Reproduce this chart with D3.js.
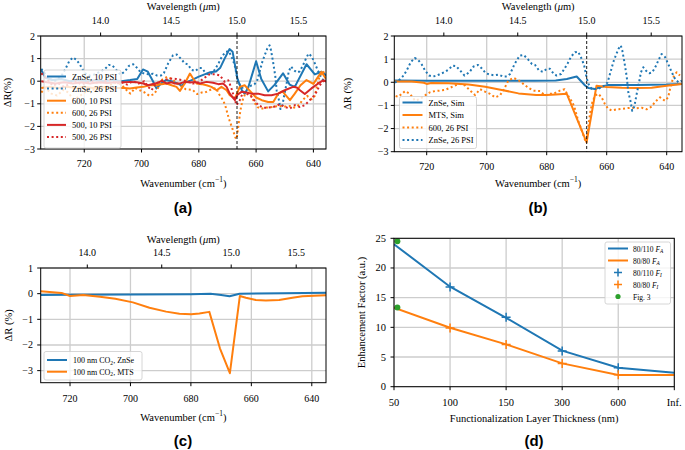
<!DOCTYPE html>
<html><head><meta charset="utf-8">
<script src="https://cdn.jsdelivr.net/npm/d3@7"></script>
<style>
body{margin:0;background:#fff}
svg{display:block}
text{font-family:"Liberation Serif","Times New Roman",serif;fill:#000}
</style>
</head><body><svg id="c" width="685" height="450"></svg>
<script>
// ---------------- DATA ----------------
const wnTicks = [720, 700, 680, 660, 640];
const wlTicks = [14.0, 14.5, 15.0, 15.5];
const yTicksAB = [2, 1, 0, -1, -2, -3];
const yTicksC = [1, 0, -1, -2, -3];
const yTicksD = [0, 5, 10, 15, 20, 25];
const thicknessCats = ["50", "100", "150", "300", "600", "Inf."];

// Panel (a) — [wavenumber, ΔR %]
const znse10 = [[735,0.5],[733.5,0.15],[731,0.05],[728,0.1],[725,0.0],[722,0.05],[719,0.0],[716,0.05],[713,0.0],[710,0.05],[707,0.0],[704,0.05],[701.5,0.1],[699.5,0.52],[697.8,0.42],[696,0.0],[694.8,-0.32],[693.2,-0.1],[691.5,0.05],[689.5,0.0],[687.5,-0.1],[686,-0.2],[684.5,-0.05],[682.5,0.05],[680,0.2],[678,0.3],[676,0.4],[674,0.43],[672.5,0.6],[671,1.0],[669.3,1.42],[668.2,1.3],[666.5,0.1],[665,-0.4],[664,-0.55],[662.8,-0.3],[660,0.88],[658.2,0.1],[655.8,-0.45],[653.5,-0.15],[650.6,0.35],[648.3,-0.15],[646.5,-0.25],[642.4,0.75],[639.5,0.3],[637.2,0.42],[635.5,0.25]];
const znse26 = [[735,0.55],[733.5,0.3],[732,0.1],[730.5,0.0],[729.4,0.07],[727.7,0.29],[726.6,0.53],[725.3,0.87],[724.0,1.05],[722.9,0.97],[721.6,0.76],[720.5,0.5],[719.2,0.29],[717.9,0.25],[716.6,0.29],[715.5,0.36],[714.2,0.43],[712.7,0.55],[711.4,0.72],[710.2,0.7],[708.8,0.5],[707.4,0.29],[705.8,0.43],[704.4,0.68],[702.9,0.75],[701.8,0.62],[700.3,0.39],[698.8,0.33],[697.4,0.3],[696.0,0.33],[694.6,0.25],[693.2,0.25],[692.2,0.36],[690.7,0.79],[689.0,1.15],[687.7,1.18],[686.3,1.0],[684.9,0.79],[683.9,0.75],[682.5,0.5],[681.2,0.45],[680.0,0.58],[678.9,0.58],[677.8,0.39],[676.7,0.29],[675.2,0.36],[674.1,0.58],[673.0,0.82],[671.9,1.1],[670.6,1.3],[669.5,1.32],[668.3,1.0],[667.5,0.72],[666.7,0.2],[666.1,-0.07],[665.0,-0.29],[663.9,-0.29],[662.8,-0.29],[661.7,-0.19],[660.6,-0.14],[659.7,0],[658.6,0.5],[657.8,0.87],[657.0,1.15],[656.1,1.44],[655.3,1.59],[654.8,1.37],[654.1,0.87],[653.3,0.22],[652.8,-0.43],[652.1,-0.79],[651.5,-1.23],[650.8,-1.05],[650.0,-0.5],[649.2,0],[648.6,0.43],[647.8,0.65],[646.9,0.5],[645.8,0.39],[644.8,0.43],[643.7,0.68],[642.6,1.0],[641.7,1.22],[640.6,1.1],[639.5,0.79],[638.3,0.43],[637.2,0.14],[636.1,0],[635.0,0.07]];
const mts600_10 = [[735,-0.3],[732,-0.25],[729,-0.3],[726,-0.25],[723,-0.3],[720,-0.25],[717,-0.3],[714,-0.25],[711,-0.3],[708,-0.3],[706,-0.3],[704.1,-0.32],[701.7,-0.28],[699.4,-0.25],[697.1,-0.18],[694.8,-0.18],[693,-0.13],[691.3,-0.1],[689.5,-0.18],[687.8,-0.25],[686.6,-0.43],[684.9,-0.1],[683.1,0.34],[682,0.12],[680.8,-0.1],[679.1,-0.13],[677.3,-0.18],[675.6,-0.25],[673.8,-0.4],[672.1,-0.25],[670.3,-0.4],[669.2,-0.62],[667.4,-0.77],[665.7,-0.25],[664,-0.18],[662,-0.45],[660,-0.72],[658,-0.84],[655.8,-0.92],[654,-0.92],[652.3,-0.55],[650.8,-0.45],[648.2,-0.84],[646.5,-0.55],[644.5,-0.18],[642.4,0.05],[640,-0.12],[637.2,0.42],[635.6,0.1]];
const mts600_26 = [[735,-0.5],[733.5,-0.3],[731.5,-0.55],[729.5,-0.63],[727.2,-0.38],[725.6,-0.5],[723.9,-0.79],[722.2,-0.72],[720.6,-0.57],[718.9,-0.43],[717.2,-0.38],[715.6,-0.36],[713.9,-0.33],[712.2,-0.24],[710.6,-0.14],[708.9,-0.07],[707.2,-0.14],[705.6,-0.35],[703.9,-0.55],[702.2,-0.3],[700.6,-0.4],[698.9,-0.5],[697.2,-0.65],[695.6,-0.57],[694.2,-0.29],[692.8,0.07],[691.1,0.19],[689.5,0.1],[687.8,-0.07],[686.1,-0.24],[684.5,-0.36],[682.2,-0.38],[680.6,-0.57],[679.0,-0.5],[677.8,-0.5],[675.6,-0.36],[674.0,-0.3],[672.8,-0.6],[671.4,-0.87],[670.6,-1.15],[669.5,-1.66],[668.3,-2.09],[667.2,-2.5],[666.8,-2.55],[666.1,-1.9],[665.5,-1.3],[664.8,-0.87],[663.9,-0.58],[662.8,-0.5],[661.7,-0.65],[660.6,-0.94],[659.5,-1.15],[658.3,-1.22],[656.7,-1.17],[655.0,-1.15],[653.4,-1.12],[651.7,-1.1],[650.0,-1.12],[648.3,-1.1],[646.7,-1.17],[645.0,-1.05],[643.9,-0.85],[642.2,-0.65],[640.6,-0.8],[639.5,-0.65],[638.9,-0.29],[637.8,0.22],[636.7,0.43],[635.6,0.29]];
const mts500_10 = [[735,0.0],[733,-0.05],[730,-0.1],[727,-0.05],[724,-0.1],[721,-0.05],[718,-0.1],[715,-0.05],[712,-0.08],[709,-0.05],[706,-0.05],[704.1,-0.03],[701.7,-0.05],[699.4,-0.1],[697.7,-0.18],[696,-0.12],[694.2,-0.07],[693,0.02],[691.3,-0.1],[689.5,-0.05],[688.4,-0.1],[686.6,-0.1],[684.9,-0.03],[683,-0.06],[681.4,-0.03],[679.6,-0.1],[677.3,-0.03],[675,-0.07],[673.2,-0.13],[671.5,-0.1],[670.3,-0.25],[669.2,-0.55],[667.4,-0.84],[666.5,-0.6],[665.1,-0.47],[663.5,-0.5],[661.6,-0.55],[659.3,-0.55],[657,-0.62],[654.6,-0.62],[652.3,-0.55],[650,-0.4],[647.1,-0.25],[645.8,-0.28],[644.7,-0.4],[643,-0.57],[640.7,-0.32],[638.3,-0.1],[636.6,0.04],[635.4,-0.02]];
const mts500_26 = [[735,0.35],[733,0.1],[731,-0.2],[729,-0.1],[727,-0.25],[725,-0.1],[723,0.0],[721,-0.15],[719,-0.05],[717,0.0],[715,-0.1],[713,0.0],[711,0.05],[709,-0.1],[707,-0.05],[705,-0.15],[703,0.0],[701,-0.1],[699,0.0],[697.7,-0.25],[696.5,-0.4],[695,-0.1],[692.4,0.04],[690.1,0.12],[688,0.1],[686,0.05],[684,0.0],[682,-0.1],[680,-0.05],[678,0.15],[676.2,0.31],[674.4,0.31],[672.7,0.26],[670.9,-0.03],[669.7,0.04],[668.6,-0.32],[667.4,-0.84],[666.8,-1.06],[665.7,-0.84],[664.5,-0.47],[663.3,-0.55],[661.6,-0.69],[659.3,-1.06],[657.5,-1.17],[655.8,-1.17],[654.0,-1.14],[651.7,-1.02],[650.0,-1.14],[648.2,-1.21],[646.5,-1.06],[644.7,-1.14],[643.0,-1.06],[641.8,-0.91],[640.1,-0.69],[638.9,-0.47],[637.8,-0.18],[636.2,0.04]];

// Panel (b) simulations
const znseSim = [[731,0.08],[720,0.07],[700,0.07],[684,0.07],[677,0.08],[673.3,0.14],[670,0.25],[667.2,-0.14],[666,-0.25],[664,-0.29],[661.7,-0.19],[659.5,-0.12],[650,-0.12],[640,-0.1],[635,-0.07]];
const mtsSim = [[731,0.03],[725,0.03],[721,-0.02],[720,-0.07],[718.5,-0.03],[712.7,-0.04],[706,-0.1],[700.5,-0.19],[695,-0.33],[689.4,-0.48],[683.5,-0.55],[680,-0.55],[677,-0.53],[673.3,-0.5],[666.7,-2.6],[663.4,-0.15],[660,-0.2],[655,-0.24],[650,-0.25],[645,-0.24],[640,-0.15],[635,-0.07]];

// Panel (c) 100 nm CO2
const co2ZnSe = [[729.7,-0.05],[720,-0.04],[700,-0.03],[680,-0.02],[673.5,0.0],[670,-0.05],[667.2,-0.1],[663.9,0.0],[650,0.02],[635.3,0.04]];
const co2MTS = [[729.7,0.09],[722.8,0.03],[720,-0.09],[715.6,-0.05],[710.1,-0.12],[705,-0.2],[699.2,-0.34],[693.7,-0.55],[688.2,-0.7],[683.8,-0.78],[679.9,-0.8],[677.2,-0.77],[673.9,-0.71],[670.4,-2.13],[667.1,-3.1],[663.8,-0.09],[661.8,-0.16],[658.5,-0.25],[655.2,-0.27],[650.8,-0.25],[646.4,-0.16],[643.1,-0.1],[635.3,-0.06]];

// Panel (d) enhancement factors
const fa80_110 = [24.0, 16.85, 11.6, 6.07, 3.2, 2.36];
const fa80_80 = [13.3, 9.94, 7.13, 3.93, 1.97, 1.97];
const fi80_110 = [16.8, 11.7, 6.0, 3.2];
const fi80_80 = [9.9, 7.1, 3.9, 2.0];
const fiIdx = [1, 2, 3, 4];
const fig3 = [24.5, 13.35];
const fig3Pos = 0.06;

// ---------------- DRAWING ----------------
const C0 = "#1f77b4", C1 = "#ff7f0e", C2 = "#2ca02c", C3 = "#d62728";
const GRID = "#cdcdcd";
const svg = d3.select("#c");
const defs = svg.append("defs");
let clipN = 0;

function fmt(v) { return v < 0 ? "\u2212" + Math.abs(v) : String(v); }

function makePanel(box, xDom, yDom) {
  const x = d3.scaleLinear().domain(xDom).range([box.l, box.r]);
  const y = d3.scaleLinear().domain(yDom).range([box.b, box.t]);
  const id = "clip" + (clipN++);
  defs.append("clipPath").attr("id", id).append("rect")
    .attr("x", box.l).attr("y", box.t).attr("width", box.r - box.l).attr("height", box.b - box.t);
  const g = svg.append("g");
  const grid = g.append("g");
  const plot = g.append("g").attr("clip-path", `url(#${id})`);
  const over = g.append("g");
  return { x, y, g, grid, plot, over, box };
}

function gridAndAxes(P, xTickVals, xTickFmt, yTickVals, fs, xLabY, yLabX) {
  const { x, y, grid, over, box } = P;
  xTickVals.forEach(t => grid.append("line").attr("x1", x(t)).attr("x2", x(t)).attr("y1", box.t).attr("y2", box.b)
    .attr("stroke", GRID).attr("stroke-width", 1.3));
  yTickVals.forEach(t => grid.append("line").attr("x1", box.l).attr("x2", box.r).attr("y1", y(t)).attr("y2", y(t))
    .attr("stroke", GRID).attr("stroke-width", 1.3));
  over.append("rect").attr("x", box.l).attr("y", box.t).attr("width", box.r - box.l).attr("height", box.b - box.t)
    .attr("fill", "none").attr("stroke", "#000").attr("stroke-width", 1);
  xTickVals.forEach((t, i) => {
    over.append("line").attr("x1", x(t)).attr("x2", x(t)).attr("y1", box.b).attr("y2", box.b + 3.5).attr("stroke", "#000");
    over.append("text").attr("x", x(t)).attr("y", xLabY).attr("text-anchor", "middle").attr("dominant-baseline", "central")
      .attr("font-size", fs).text(xTickFmt(t, i));
  });
  yTickVals.forEach(t => {
    over.append("line").attr("x1", box.l - 3.5).attr("x2", box.l).attr("y1", y(t)).attr("y2", y(t)).attr("stroke", "#000");
    over.append("text").attr("x", yLabX).attr("y", y(t)).attr("text-anchor", "end").attr("dominant-baseline", "central")
      .attr("font-size", fs).text(fmt(t));
  });
}

function topAxis(P, labY, titleY) {
  const { x, over, box } = P;
  wlTicks.forEach(t => {
    const px = x(1e4 / t);
    over.append("line").attr("x1", px).attr("x2", px).attr("y1", box.t - 3.5).attr("y2", box.t).attr("stroke", "#000");
    over.append("text").attr("x", px).attr("y", labY).attr("text-anchor", "middle").attr("dominant-baseline", "central")
      .attr("font-size", 10).text(t.toFixed(1));
  });
  const tt = over.append("text").attr("x", (box.l + box.r) / 2).attr("y", titleY).attr("text-anchor", "middle")
    .attr("dominant-baseline", "central").attr("font-size", 10.5);
  tt.append("tspan").text("Wavelength (");
  tt.append("tspan").attr("font-style", "italic").text("\u03bc");
  tt.append("tspan").text("m)");
}

function wnLabel(P, yPos) {
  const t = P.over.append("text").attr("x", (P.box.l + P.box.r) / 2).attr("y", yPos).attr("text-anchor", "middle")
    .attr("dominant-baseline", "central").attr("font-size", 10.5);
  t.append("tspan").text("Wavenumber (cm");
  t.append("tspan").attr("font-size", 7.5).attr("dy", -4).text("\u22121");
  t.append("tspan").attr("dy", 4).text(")");
}

function yLabel(P, xPos, txt) {
  const cy = (P.box.t + P.box.b) / 2;
  P.over.append("text").attr("transform", `translate(${xPos},${cy}) rotate(-90)`).attr("text-anchor", "middle")
    .attr("dominant-baseline", "central").attr("font-size", 10.5).text(txt);
}

function drawLine(P, data, color, dotted) {
  const line = d3.line().x(d => P.x(d[0])).y(d => P.y(d[1]));
  const p = P.plot.append("path").datum(data).attr("d", line).attr("fill", "none").attr("stroke", color)
    .attr("stroke-width", 2).attr("stroke-linejoin", "round");
  if (dotted) p.attr("stroke-dasharray", "2,2.6");
}

function vline15(P) {
  P.plot.append("line").attr("x1", P.x(1e4 / 15)).attr("x2", P.x(1e4 / 15)).attr("y1", P.box.t).attr("y2", P.box.b)
    .attr("stroke", "#000").attr("stroke-width", 0.9).attr("stroke-dasharray", "3,2");
}

function legend(P, x0, y0, w, h, rowY, items, fs) {
  const lg = P.over.append("g");
  lg.append("rect").attr("x", x0).attr("y", y0).attr("width", w).attr("height", h).attr("rx", 2)
    .attr("fill", "#fff").attr("fill-opacity", 0.8).attr("stroke", "#cccccc").attr("stroke-width", 0.8);
  items.forEach((it, i) => {
    const yy = y0 + rowY[0] + i * rowY[1];
    if (it.type === "plus") {
      const cx = x0 + 3 + 10;
      lg.append("path").attr("d", `M${cx - 4},${yy}H${cx + 4}M${cx},${yy - 4}V${yy + 4}`).attr("stroke", it.color).attr("stroke-width", 1.5);
    } else if (it.type === "dot") {
      lg.append("circle").attr("cx", x0 + 13).attr("cy", yy).attr("r", 2.6).attr("fill", it.color);
    } else {
      const l = lg.append("line").attr("x1", x0 + 3).attr("x2", x0 + 3 + it.hw).attr("y1", yy).attr("y2", yy)
        .attr("stroke", it.color).attr("stroke-width", 2);
      if (it.dotted) l.attr("stroke-dasharray", "2,2.6");
    }
    const t = lg.append("text").attr("x", x0 + it.tx).attr("y", yy).attr("dominant-baseline", "central").attr("font-size", fs);
    it.parts.forEach(pp => {
      const s = t.append("tspan").text(pp.t);
      if (pp.i) s.attr("font-style", "italic");
      if (pp.sub) s.attr("font-size", fs * 0.7).attr("dy", 2.5);
      if (pp.up) s.attr("dy", -2.5);
    });
  });
}

// ---- Panel (a)
const A = makePanel({ l: 40.7, r: 326, t: 36, b: 149 }, [735.2, 635.6], [-3, 2]);
gridAndAxes(A, wnTicks, t => t, yTicksAB, 10, 163.5, 35);
drawLine(A, znse10, C0, false);
drawLine(A, znse26, C0, true);
drawLine(A, mts600_10, C1, false);
drawLine(A, mts600_26, C1, true);
drawLine(A, mts500_10, C3, false);
drawLine(A, mts500_26, C3, true);
vline15(A);
topAxis(A, 20, 5.5);
wnLabel(A, 183);
yLabel(A, 7, "\u0394R(%)");
legend(A, 44, 70, 77, 78, [6.5, 12.1], [
  { color: C0, hw: 19, tx: 28, parts: [{ t: "ZnSe, 10 PSI" }] },
  { color: C0, hw: 19, tx: 28, dotted: true, parts: [{ t: "ZnSe, 26 PSI" }] },
  { color: C1, hw: 19, tx: 28, parts: [{ t: "600, 10 PSI" }] },
  { color: C1, hw: 19, tx: 28, dotted: true, parts: [{ t: "600, 26 PSI" }] },
  { color: C3, hw: 19, tx: 28, parts: [{ t: "500, 10 PSI" }] },
  { color: C3, hw: 19, tx: 28, dotted: true, parts: [{ t: "500, 26 PSI" }] }
], 8.5);

// ---- Panel (b)
const B = makePanel({ l: 394.3, r: 682, t: 36, b: 151.7 }, [730.8, 634.9], [-3, 2]);
gridAndAxes(B, wnTicks, t => t, yTicksAB, 10, 166, 388.5);
drawLine(B, znseSim, C0, false);
drawLine(B, mtsSim, C1, false);
drawLine(B, mts600_26, C1, true);
drawLine(B, znse26, C0, true);
vline15(B);
topAxis(B, 20, 5.5);
wnLabel(B, 183);
yLabel(B, 347, "\u0394R (%)");
legend(B, 399.5, 96.5, 77, 52, [6, 12.5], [
  { color: C0, hw: 20, tx: 29, parts: [{ t: "ZnSe, Sim" }] },
  { color: C1, hw: 20, tx: 29, parts: [{ t: "MTS, Sim" }] },
  { color: C1, hw: 20, tx: 29, dotted: true, parts: [{ t: "600, 26 PSI" }] },
  { color: C0, hw: 20, tx: 29, dotted: true, parts: [{ t: "ZnSe, 26 PSI" }] }
], 8.5);

// ---- Panel (c)
const Cp = makePanel({ l: 40.7, r: 326, t: 268, b: 382.7 }, [729.7, 635.3], [-3.47, 1]);
gridAndAxes(Cp, wnTicks, t => t, yTicksC, 10, 398, 33);
drawLine(Cp, co2ZnSe, C0, false);
drawLine(Cp, co2MTS, C1, false);
topAxis(Cp, 252.5, 238.5);
wnLabel(Cp, 416.5);
yLabel(Cp, 8.5, "\u0394R (%)");
legend(Cp, 44, 351.5, 98, 28.5, [8.5, 11.7], [
  { color: C0, hw: 20, tx: 29, parts: [{ t: "100 nm CO" }, { t: "2", sub: true }, { t: ", ZnSe", up: true }] },
  { color: C1, hw: 20, tx: 29, parts: [{ t: "100 nm CO" }, { t: "2", sub: true }, { t: ", MTS", up: true }] }
], 8);

// ---- Panel (d)
const D = makePanel({ l: 394, r: 674.3, t: 238.3, b: 386.7 }, [0, 5], [0, 25]);
gridAndAxes(D, d3.range(thicknessCats.length), (t, i) => thicknessCats[i], yTicksD, 10.5, 402, 386);
const lineD = d3.line().x((d, i) => D.x(i)).y(d => D.y(d));
D.plot.append("path").datum(fa80_110).attr("d", lineD).attr("fill", "none").attr("stroke", C0).attr("stroke-width", 2);
D.plot.append("path").datum(fa80_80).attr("d", lineD).attr("fill", "none").attr("stroke", C1).attr("stroke-width", 2);
function plusMarks(vals, color) {
  vals.forEach((v, k) => {
    const cx = D.x(fiIdx[k]), cy = D.y(v);
    D.plot.append("path").attr("d", `M${cx - 4.5},${cy}H${cx + 4.5}M${cx},${cy - 4.5}V${cy + 4.5}`)
      .attr("stroke", color).attr("stroke-width", 1.5);
  });
}
plusMarks(fi80_110, C0);
plusMarks(fi80_80, C1);
fig3.forEach(v => D.plot.append("circle").attr("cx", D.x(fig3Pos)).attr("cy", D.y(v)).attr("r", 3).attr("fill", C2));
D.over.append("text").attr("x", (D.box.l + D.box.r) / 2).attr("y", 418).attr("text-anchor", "middle")
  .attr("dominant-baseline", "central").attr("font-size", 10.5).text("Functionalization Layer Thickness (nm)");
yLabel(D, 361.5, "Enhancement Factor (a.u.)");
legend(D, 605, 242, 65.5, 62, [6.5, 12], [
  { color: C0, hw: 20, tx: 28, parts: [{ t: "80/110 " }, { t: "F", i: true }, { t: "A", i: true, sub: true }] },
  { color: C1, hw: 20, tx: 28, parts: [{ t: "80/80 " }, { t: "F", i: true }, { t: "A", i: true, sub: true }] },
  { color: C0, type: "plus", tx: 28, parts: [{ t: "80/110 " }, { t: "F", i: true }, { t: "I", i: true, sub: true }] },
  { color: C1, type: "plus", tx: 28, parts: [{ t: "80/80 " }, { t: "F", i: true }, { t: "I", i: true, sub: true }] },
  { color: C2, type: "dot", tx: 28, parts: [{ t: "Fig. 3" }] }
], 7.5);

// ---- panel captions
[["(a)", 183, 207], ["(b)", 538, 207], ["(c)", 183, 440], ["(d)", 534, 440]].forEach(([t, x, y]) => {
  svg.append("text").attr("x", x).attr("y", y).attr("text-anchor", "middle").attr("dominant-baseline", "central")
    .style("font-family", "'Liberation Sans', Arial, sans-serif").attr("font-weight", "bold").attr("font-size", 15).text(t);
});
</script></body></html>
